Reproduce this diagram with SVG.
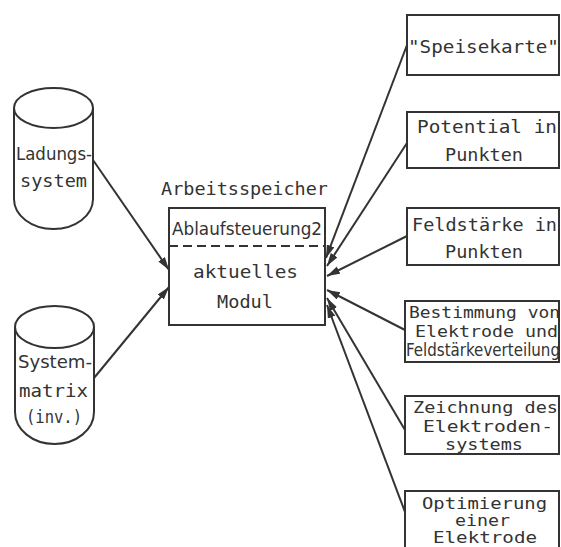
<svg xmlns="http://www.w3.org/2000/svg" width="561" height="547" viewBox="0 0 561 547">
<style>
.s{fill:none;stroke:#333;stroke-width:2}
.t{font-family:"DejaVu Sans Mono","Liberation Mono",monospace;font-size:17px;fill:#333}
.sm{font-size:15px}
.p{font-family:"DejaVu Sans Condensed","DejaVu Sans","Liberation Sans",sans-serif;font-size:17px;fill:#333}
.c{stroke:#333;stroke-width:2;fill:none}
</style>
<defs>
<marker id="ah" markerUnits="userSpaceOnUse" markerWidth="14" markerHeight="10" refX="13" refY="4" orient="auto">
<path d="M0,0 L13,4 L0,8 z" fill="#333"/>
</marker>
</defs>
<rect width="561" height="547" fill="#fff"/>
<g id="ladungssystem">
<path class="s" d="M14,108 A39.5,20 0 0 1 93,108 A39.5,20 0 0 1 14,108 Z"/>
<path class="s" d="M14,108 L14,199 A39.5,30 0 0 0 93,199 L93,108"/>
<text class="p" x="16" y="160" textLength="76" lengthAdjust="spacingAndGlyphs">Ladungs-</text>
<text class="t" x="20" y="187" textLength="67" lengthAdjust="spacingAndGlyphs">system</text>
</g>
<g id="systemmatrix">
<path class="s" d="M15,327 A39.5,21 0 0 1 94,327 A39.5,21 0 0 1 15,327 Z"/>
<path class="s" d="M15,327 L15,412 A39.5,32 0 0 0 94,412 L94,327"/>
<text class="p" x="18" y="368" textLength="74" lengthAdjust="spacingAndGlyphs">System-</text>
<text class="t" x="19" y="397" textLength="69" lengthAdjust="spacingAndGlyphs">matrix</text>
<text class="t" x="26" y="423" textLength="56" lengthAdjust="spacingAndGlyphs">(inv.)</text>
</g>
<g id="arbeitsspeicher">
<text class="t" x="161" y="195" textLength="167" lengthAdjust="spacingAndGlyphs">Arbeitsspeicher</text>
<rect class="s" x="169" y="208" width="156" height="117"/>
<line class="s" x1="169" y1="246" x2="325" y2="246" stroke-dasharray="9,5"/>
<text class="p" x="172" y="235" textLength="150" lengthAdjust="spacingAndGlyphs">Ablaufsteuerung2</text>
<text class="t" x="193" y="278" textLength="105" lengthAdjust="spacingAndGlyphs">aktuelles</text>
<text class="t" x="217" y="308" textLength="56" lengthAdjust="spacingAndGlyphs">Modul</text>
</g>
<g id="speisekarte">
<rect class="s" x="407" y="15" width="152" height="60"/>
<text class="t" x="408" y="53" textLength="151" lengthAdjust="spacingAndGlyphs">"Speisekarte"</text>
</g>
<g id="potential">
<rect class="s" x="407" y="112" width="152" height="56"/>
<text class="t" x="417" y="133" textLength="140" lengthAdjust="spacingAndGlyphs">Potential in</text>
<text class="t" x="445" y="161" textLength="78" lengthAdjust="spacingAndGlyphs">Punkten</text>
</g>
<g id="feldstaerke">
<rect class="s" x="407" y="208" width="152" height="57"/>
<text class="t" x="412" y="231" textLength="145" lengthAdjust="spacingAndGlyphs">Feldstärke in</text>
<text class="t" x="445" y="258" textLength="78" lengthAdjust="spacingAndGlyphs">Punkten</text>
</g>
<g id="bestimmung">
<rect class="s" x="405" y="301" width="154" height="61"/>
<text class="t sm" x="409" y="318" textLength="151" lengthAdjust="spacingAndGlyphs">Bestimmung von</text>
<text class="t sm" x="415" y="337" textLength="143" lengthAdjust="spacingAndGlyphs">Elektrode und</text>
<text class="p" x="406" y="356" font-size="12.5" textLength="154" lengthAdjust="spacingAndGlyphs">Feldstärkeverteilung</text>
</g>
<g id="zeichnung">
<rect class="s" x="405" y="396" width="154" height="58"/>
<text class="t sm" x="413" y="413" textLength="145" lengthAdjust="spacingAndGlyphs">Zeichnung des</text>
<text class="t sm" x="423" y="432" textLength="130" lengthAdjust="spacingAndGlyphs">Elektroden-</text>
<text class="t sm" x="445" y="450" textLength="78" lengthAdjust="spacingAndGlyphs">systems</text>
</g>
<g id="optimierung">
<rect class="s" x="405" y="491" width="154" height="70"/>
<text class="t sm" x="422" y="509" textLength="125" lengthAdjust="spacingAndGlyphs">Optimierung</text>
<text class="t sm" x="455" y="526" textLength="55" lengthAdjust="spacingAndGlyphs">einer</text>
<text class="t sm" x="433" y="543" textLength="104" lengthAdjust="spacingAndGlyphs">Elektrode</text>
</g>
<g id="connectors">
<line class="c" x1="93" y1="160" x2="169" y2="270" marker-end="url(#ah)"/>
<line class="c" x1="94" y1="378" x2="169" y2="287" marker-end="url(#ah)"/>
<line class="c" x1="407" y1="45" x2="326" y2="258" marker-end="url(#ah)"/>
<line class="c" x1="407" y1="143" x2="327" y2="266" marker-end="url(#ah)"/>
<line class="c" x1="407" y1="236" x2="327" y2="276" marker-end="url(#ah)"/>
<line class="c" x1="405" y1="330" x2="327" y2="290" marker-end="url(#ah)"/>
<line class="c" x1="405" y1="430" x2="327" y2="298" marker-end="url(#ah)"/>
<line class="c" x1="405" y1="512" x2="327" y2="305" marker-end="url(#ah)"/>
</g>
</svg>
